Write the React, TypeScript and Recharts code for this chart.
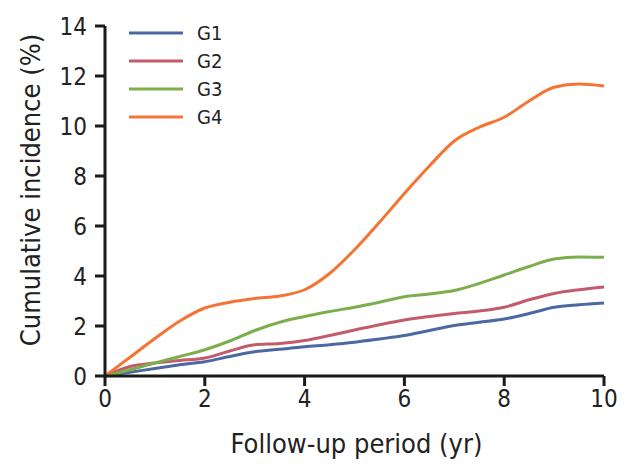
import { LineChart, Line, XAxis, YAxis, Label } from "recharts";

const FONT = "'Liberation Sans Narrow', 'DejaVu Sans Condensed', 'Roboto Condensed', 'Arial Narrow', sans-serif";

const years = [0, 0.5, 1, 1.5, 2, 2.5, 3, 3.5, 4, 4.5, 5, 5.5, 6, 6.5, 7, 7.5, 8, 8.5, 9, 9.5, 10];
const g1 = [0, 0.15, 0.3, 0.45, 0.57, 0.78, 0.97, 1.07, 1.17, 1.25, 1.35, 1.48, 1.62, 1.82, 2.02, 2.15, 2.28, 2.5, 2.75, 2.85, 2.92];
const g2 = [0, 0.38, 0.52, 0.62, 0.72, 1.0, 1.25, 1.3, 1.42, 1.62, 1.84, 2.05, 2.24, 2.38, 2.5, 2.6, 2.75, 3.05, 3.3, 3.45, 3.56];
const g3 = [0, 0.25, 0.52, 0.78, 1.05, 1.4, 1.82, 2.15, 2.38, 2.58, 2.75, 2.95, 3.17, 3.28, 3.42, 3.7, 4.04, 4.38, 4.68, 4.76, 4.75];
const g4 = [0, 0.75, 1.5, 2.2, 2.72, 2.95, 3.1, 3.2, 3.45, 4.1, 5.05, 6.15, 7.3, 8.4, 9.4, 9.95, 10.35, 11.0, 11.55, 11.68, 11.6];

const xTicks = [0, 2, 4, 6, 8, 10];
const yTicks = [0, 2, 4, 6, 8, 10, 12, 14];

const series = [
  { key: "G1", color: "#4c68a3" },
  { key: "G2", color: "#c25b6b" },
  { key: "G3", color: "#7cae4d" },
  { key: "G4", color: "#f57433" },
];

const data = years.map((t, i) => ({ t, G1: g1[i], G2: g2[i], G3: g3[i], G4: g4[i] }));

function LegendBox() {
  return (
    <div style={{ position: "absolute", left: 129, top: 19, fontFamily: FONT, fontSize: 20, color: "#222" }}>
      {series.map(s => (
        <div key={s.key} style={{ display: "flex", alignItems: "center", height: 28 }}>
          <svg width={54} height={6} style={{ marginRight: 14 }}>
            <line x1={0} y1={3} x2={54} y2={3} stroke={s.color} strokeWidth={3} />
          </svg>
          <span>{s.key}</span>
        </div>
      ))}
    </div>
  );
}

export default function App() {
  const tickStyle = { fontFamily: FONT, fontSize: 24, fill: "#222" };
  return (
    <div style={{ position: "absolute", left: 0, top: 0, width: 632, height: 476, background: "#fff" }}>
      <LineChart width={632} height={476} data={data} margin={{ top: 26, right: 28, bottom: 0, left: 0 }}>
        <XAxis
          dataKey="t"
          type="number"
          domain={[0, 10]}
          ticks={xTicks}
          height={100}
          axisLine={{ stroke: "#1a1a1a", strokeWidth: 3 }}
          tickLine={{ stroke: "#1a1a1a", strokeWidth: 3 }}
          tickSize={10}
          tick={tickStyle}
          tickMargin={4}
        >
          <Label
            content={({ viewBox }: any) => (
              <text
                x={viewBox.x + viewBox.width / 2 + 2}
                y={viewBox.y + 77}
                textAnchor="middle"
                style={{ fontFamily: FONT, fontSize: 27, fill: "#222" }}
              >
                Follow-up period (yr)
              </text>
            )}
          />
        </XAxis>
        <YAxis
          type="number"
          domain={[0, 14]}
          ticks={yTicks}
          width={105}
          axisLine={{ stroke: "#1a1a1a", strokeWidth: 3 }}
          tickLine={{ stroke: "#1a1a1a", strokeWidth: 3 }}
          tickSize={10}
          tick={tickStyle}
          tickMargin={8}
          interval={0}
        >
          <Label
            content={({ viewBox }: any) => {
              const cx = viewBox.x + 30;
              const cy = viewBox.y + viewBox.height / 2 - 11;
              return (
                <text
                  x={cx}
                  y={cy}
                  textAnchor="middle"
                  dominantBaseline="central"
                  transform={`rotate(-90 ${cx} ${cy})`}
                  style={{ fontFamily: FONT, fontSize: 27, fill: "#222" }}
                >
                  Cumulative incidence (%)
                </text>
              );
            }}
          />
        </YAxis>
        {series.map(s => (
          <Line
            key={s.key}
            dataKey={s.key}
            type="monotone"
            stroke={s.color}
            strokeWidth={3}
            dot={false}
            isAnimationActive={false}
          />
        ))}
      </LineChart>
      <LegendBox />
    </div>
  );
}
